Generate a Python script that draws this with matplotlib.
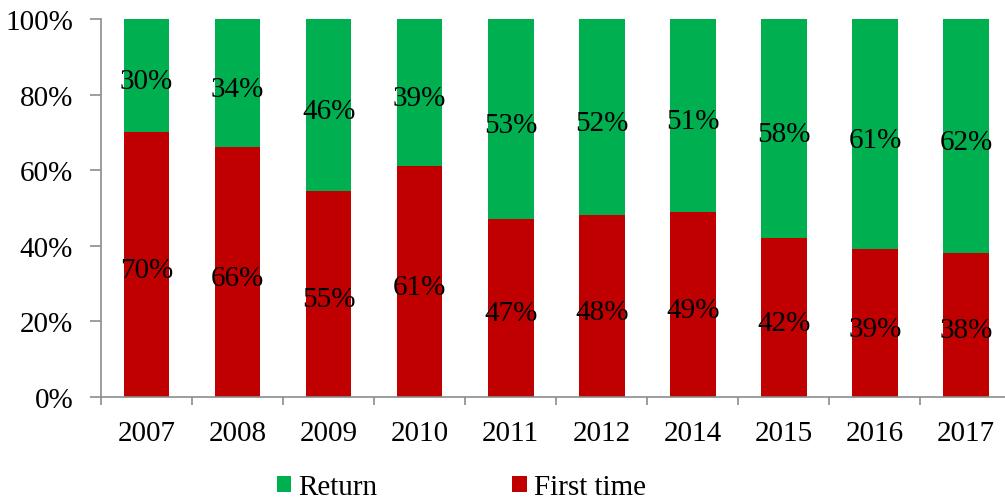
import matplotlib.pyplot as plt
import numpy as np

# --- DATA ---
years = ['2007', '2008', '2009', '2010', '2011', '2012', '2014', '2015', '2016', '2017']
first_time = [70, 66, 55, 61, 47, 48, 49, 42, 39, 38]
returning = [30, 34, 46, 39, 53, 52, 51, 58, 61, 62]

plt.rcParams['font.family'] = ['Liberation Serif', 'DejaVu Serif']
plt.rcParams['font.size'] = 21

red = '#C00000'
green = '#00B050'
axis_gray = '#8C8C8C'

first = np.array(first_time, dtype=float)
ret = np.array(returning, dtype=float)
total = first + ret
first_share = first / total * 100
ret_share = ret / total * 100

fig = plt.figure(figsize=(10.05, 5.02), dpi=100)
ax = fig.add_axes([0.1005, 0.208, 0.906, 0.752])

x = np.arange(len(years))
b1 = ax.bar(x, first_share, width=0.5, color=red, label='First time')
b2 = ax.bar(x, ret_share, width=0.5, bottom=first_share, color=green, label='Return')

# segment labels, nudged down a touch like the original
for i in range(len(years)):
    ax.annotate(f'{first_time[i]}%', (x[i], first_share[i] / 2), xytext=(0, -4),
                textcoords='offset points', ha='center', va='center')
    ax.annotate(f'{returning[i]}%', (x[i], first_share[i] + ret_share[i] / 2), xytext=(0, -4),
                textcoords='offset points', ha='center', va='center')

ax.set_xlim(-0.5, len(years) - 0.5)
ax.set_ylim(0, 100)
ax.set_yticks([0, 20, 40, 60, 80, 100])
ax.set_yticklabels([f'{v}%' for v in [0, 20, 40, 60, 80, 100]])
ax.set_xticks(x)
ax.set_xticklabels(years)
ax.set_xticks(np.arange(-0.5, len(years)), minor=True)
ax.tick_params(axis='x', which='major', length=0, pad=17)
ax.tick_params(axis='x', which='minor', length=6, color=axis_gray, width=1.2, direction='out')
ax.tick_params(axis='y', length=8, color=axis_gray, width=1.2, pad=12)

for s in ['top', 'right']:
    ax.spines[s].set_visible(False)
for s in ['left', 'bottom']:
    ax.spines[s].set_color(axis_gray)
    ax.spines[s].set_linewidth(1.2)

fig.legend(handles=[b2, b1], labels=['Return', 'First time'], loc='center',
           bbox_to_anchor=(0.459, 0.027), ncol=2, frameon=False,
           handlelength=0.5, handleheight=0.5, handletextpad=0.25,
           columnspacing=4.6, borderpad=0)

fig.savefig('out.png', dpi=100)
